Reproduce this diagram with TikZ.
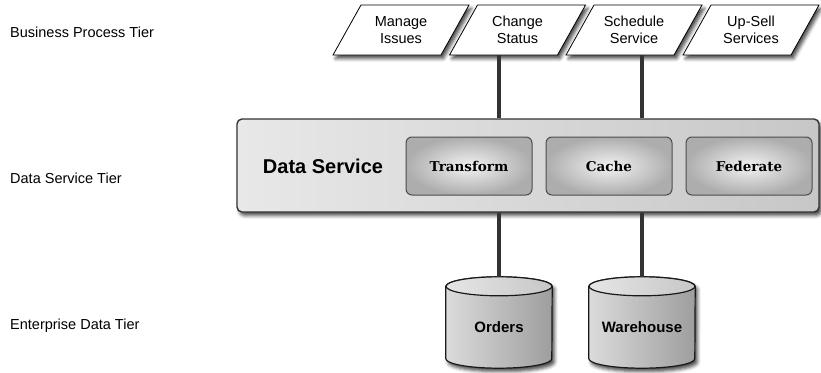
\documentclass[tikz,border=0pt]{standalone}
\usepackage{fontspec}
\setmainfont{Liberation Sans}
\newfontfamily\slabfont{DejaVu Serif}
\usetikzlibrary{shadows.blur,calc}
\pgfdeclarelayer{background}
\pgfsetlayers{background,main}

\tikzset{
  softshadow/.style={blur shadow={shadow xshift=2.5pt,shadow yshift=-3.5pt,
      shadow blur radius=3.5pt,shadow opacity=72}},
  tierlabel/.style={anchor=base west,inner sep=0pt,
      font=\fontsize{14.5}{17}\selectfont},
  bpnode/.style={minimum width=136pt,minimum height=50pt,inner sep=0pt,
      align=center,font=\fontsize{14.5}{17}\selectfont},
  bpframe/.style={draw=black,line width=0.8pt,fill=white,softshadow},
  dsbox/.style={draw=black!80,line width=1.4pt,rounded corners=5pt,
      left color=black!9,right color=black!22,
      minimum width=582pt,minimum height=93pt,inner sep=0pt,softshadow},
  dstitle/.style={font=\bfseries\fontsize{20}{24}\selectfont,inner sep=0pt},
  svcbox/.style={draw=black!70,line width=1pt,rounded corners=6pt,
      shading=radial,inner color=black!5,outer color=black!32,
      minimum width=126pt,minimum height=58pt,inner sep=0pt,
      font=\slabfont\bfseries\fontsize{13.5}{16}\selectfont},
  dbframe/.style={minimum width=106pt,minimum height=91pt,inner sep=0pt},
  dblabel/.style={font=\bfseries\fontsize{15}{18}\selectfont,inner sep=0pt},
  dbbody/.style={draw=black!90,line width=1.2pt,
      left color=black!14,middle color=black!8,right color=black!38,softshadow},
  dbtop/.style={draw=black!90,line width=1.2pt,
      left color=black!10,right color=black!22},
  conn/.style={draw=black!80,line width=4pt},
}

% database cylinder drawn behind the frame node #1
\newcommand\drawdb[1]{%
  \begin{pgfonlayer}{background}
    \path[dbbody] ([yshift=-9.5pt]#1.north west) -- ([yshift=9.5pt]#1.south west)
      arc[start angle=180,end angle=360,x radius=53pt,y radius=9.5pt]
      -- ([yshift=-9.5pt]#1.north east)
      arc[start angle=0,end angle=180,x radius=53pt,y radius=9.5pt] -- cycle;
    \path[dbtop] ([yshift=-9.5pt]#1.north) ellipse[x radius=53pt,y radius=9.5pt];
  \end{pgfonlayer}}

\begin{document}
\begin{tikzpicture}[x=1pt,y=-1pt]
  \useasboundingbox (0,0) rectangle (821,372);

  % tier captions
  \node[tierlabel] (tierbp) at (10,37.5) {Business Process Tier};
  \node[tierlabel] (tierds) at (10,183) {Data Service Tier};
  \node[tierlabel] (tiered) at (10,329) {Enterprise Data Tier};

  % slanted outlines of the business processes
  \foreach \cx in {401,517.5,634,751}
    \path[bpframe] (\cx-40,5) -- (\cx+68,5) -- (\cx+40,55) -- (\cx-68,55) -- cycle;

  % business processes
  \node[bpnode] (pmanage) at (401,30) {Manage\\Issues};
  \node[bpnode] (pchange) at (517.5,30) {Change\\Status};
  \node[bpnode] (psched)  at (634,30) {Schedule\\Service};
  \node[bpnode] (pupsell) at (751,30) {Up-Sell\\Services};

  % data service layer
  \node[dsbox] (ds) at (528,165.5) {};
  \node[dstitle] (dstitle) at (323,166.5) {Data Service};
  \node[svcbox] (transform) at (469,166) {Transform};
  \node[svcbox] (cache)     at (609,166) {Cache};
  \node[svcbox] (federate)  at (749,166) {Federate};

  % enterprise data stores
  \node[dbframe] (orders)    at (499,322.5) {};
  \node[dbframe] (warehouse) at (642,322.5) {};
  \drawdb{orders}
  \drawdb{warehouse}
  \node[dblabel] (orderslabel)    at ($(orders.center)+(0,5)$) {Orders};
  \node[dblabel] (warehouselabel) at ($(warehouse.center)+(0,5)$) {Warehouse};

  % connectors
  \draw[conn] (orders.north |- pchange.south) -- (orders.north |- ds.north);
  \draw[conn] (warehouse.north |- psched.south) -- (warehouse.north |- ds.north);
  \draw[conn] (orders.north |- ds.south) -- (orders.north);
  \draw[conn] (warehouse.north |- ds.south) -- (warehouse.north);
\end{tikzpicture}
\end{document}
